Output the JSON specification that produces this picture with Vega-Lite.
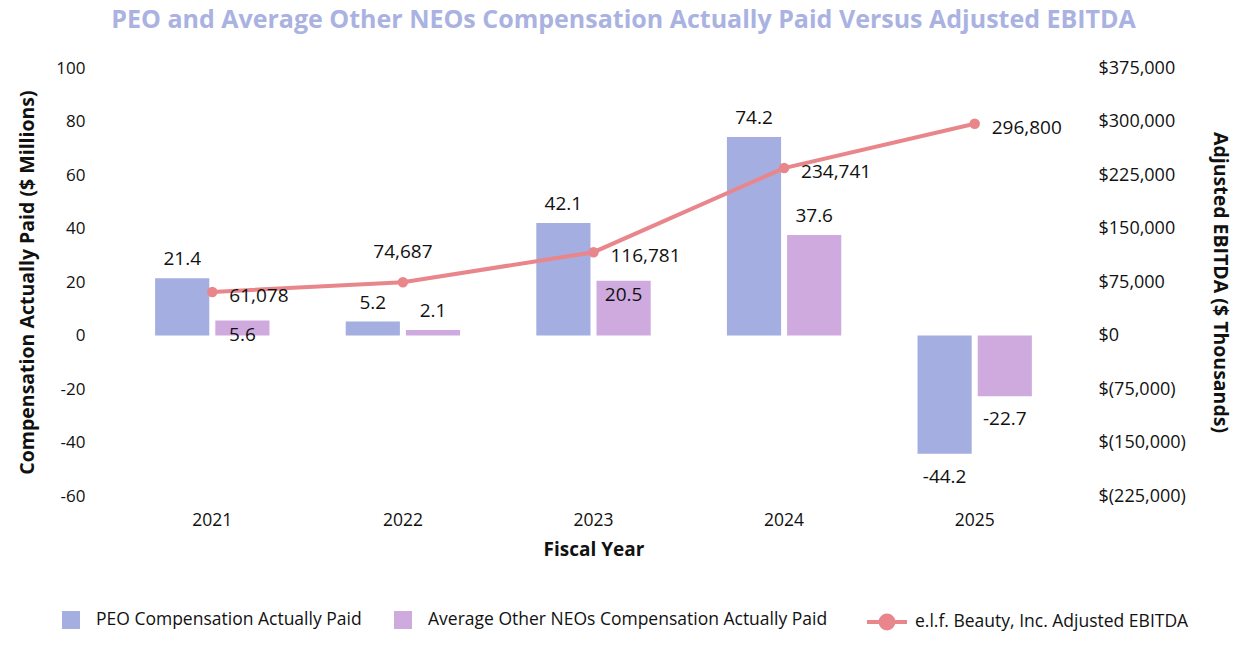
{
  "$schema": "https://vega.github.io/schema/vega-lite/v6.json",
  "width": 953,
  "height": 428,
  "padding": {"left": 17, "right": 10, "top": 8, "bottom": 5},
  "title": {
    "text": "PEO and Average Other NEOs Compensation Actually Paid Versus Adjusted EBITDA",
    "fontSize": 25,
    "fontWeight": "bold",
    "color": "#AAB2E2",
    "font": "Open Sans",
    "anchor": "middle",
    "frame": "bounds",
    "offset": 26
  },
  "config": {
    "font": "Open Sans",
    "view": {"stroke": null},
    "axis": {"grid": false, "labelFont": "Open Sans", "titleFont": "Open Sans", "labelColor": "#111", "titleColor": "#111", "domain": false, "ticks": false},
    "legend": {"labelFont": "Open Sans", "labelColor": "#111"}
  },
  "datasets": {
    "comp": [
      {"year": "2021", "series": "PEO Compensation Actually Paid", "value": 21.4},
      {"year": "2022", "series": "PEO Compensation Actually Paid", "value": 5.2},
      {"year": "2023", "series": "PEO Compensation Actually Paid", "value": 42.1},
      {"year": "2024", "series": "PEO Compensation Actually Paid", "value": 74.2},
      {"year": "2025", "series": "PEO Compensation Actually Paid", "value": -44.2},
      {"year": "2021", "series": "Average Other NEOs Compensation Actually Paid", "value": 5.6},
      {"year": "2022", "series": "Average Other NEOs Compensation Actually Paid", "value": 2.1},
      {"year": "2023", "series": "Average Other NEOs Compensation Actually Paid", "value": 20.5},
      {"year": "2024", "series": "Average Other NEOs Compensation Actually Paid", "value": 37.6},
      {"year": "2025", "series": "Average Other NEOs Compensation Actually Paid", "value": -22.7}
    ],
    "ebitda": [
      {"year": "2021", "value": 61078},
      {"year": "2022", "value": 74687},
      {"year": "2023", "value": 116781},
      {"year": "2024", "value": 234741},
      {"year": "2025", "value": 296800}
    ]
  },
  "encoding": {
    "x": {
      "field": "year",
      "type": "ordinal",
      "scale": {"paddingInner": 0.4, "paddingOuter": 0.2},
      "axis": {
        "title": "Fiscal Year",
        "labelAngle": 0,
        "labelFontSize": 17.5,
        "titleFontSize": 19,
        "titleFontWeight": "bold",
        "labelPadding": 15,
        "titlePadding": 12
      }
    }
  },
  "layer": [
    {
      "data": {"name": "comp"},
      "encoding": {
        "y": {
          "field": "value",
          "type": "quantitative",
          "scale": {"domain": [-60, 100], "nice": false},
          "axis": {
            "title": "Compensation Actually Paid ($ Millions)",
            "values": [-60, -40, -20, 0, 20, 40, 60, 80, 100],
            "labelExpr": "datum.value + ''",
            "labelFontSize": 17,
            "titleFontSize": 19.5,
            "titleFontWeight": "bold",
            "labelPadding": 32,
            "titlePadding": 18
          }
        }
      },
      "layer": [
        {
          "mark": {"type": "bar"},
          "encoding": {
            "xOffset": {"field": "series", "type": "nominal", "sort": ["PEO Compensation Actually Paid", "Average Other NEOs Compensation Actually Paid"], "scale": {"paddingInner": 0.1, "paddingOuter": 0}},
            "color": {
              "field": "series",
              "type": "nominal",
              "scale": {"domain": ["PEO Compensation Actually Paid", "Average Other NEOs Compensation Actually Paid"], "range": ["#A4AEE0", "#CFAADE"]},
              "legend": {
                "title": null,
                "orient": "none",
                "direction": "horizontal",
                "legendX": -55,
                "legendY": 543,
                "symbolType": "square",
                "symbolSize": 324,
                "symbolStrokeWidth": 0,
                "labelFontSize": 17.5,
                "labelOffset": 16,
                "columnPadding": 32,
                "labelLimit": 500
              }
            }
          }
        },
        {
          "mark": {"type": "rule", "color": "#888888", "strokeWidth": 2},
          "encoding": {"y": {"datum": 0}}
        },
        {
          "transform": [{"filter": "datum.value >= 0 && !(datum.series == 'Average Other NEOs Compensation Actually Paid' && (datum.year == '2021' || datum.year == '2023'))"}],
          "mark": {"type": "text", "baseline": "bottom", "dy": -9, "fontSize": 19, "color": "#111"},
          "encoding": {
            "xOffset": {"field": "series", "type": "nominal", "sort": ["PEO Compensation Actually Paid", "Average Other NEOs Compensation Actually Paid"]},
            "text": {"field": "value", "type": "nominal"}
          }
        },
        {
          "transform": [{"filter": "datum.series == 'Average Other NEOs Compensation Actually Paid' && (datum.year == '2021' || datum.year == '2023')"}],
          "mark": {"type": "text", "baseline": "middle", "dy": 14, "fontSize": 19, "color": "#111"},
          "encoding": {
            "xOffset": {"field": "series", "type": "nominal", "sort": ["PEO Compensation Actually Paid", "Average Other NEOs Compensation Actually Paid"]},
            "text": {"field": "value", "type": "nominal"}
          }
        },
        {
          "transform": [{"filter": "datum.value < 0"}],
          "mark": {"type": "text", "baseline": "top", "dy": 14, "fontSize": 19, "color": "#111"},
          "encoding": {
            "xOffset": {"field": "series", "type": "nominal", "sort": ["PEO Compensation Actually Paid", "Average Other NEOs Compensation Actually Paid"]},
            "text": {"field": "value", "type": "nominal"}
          }
        }
      ]
    },
    {
      "data": {"name": "ebitda"},
      "encoding": {
        "y": {
          "field": "value",
          "type": "quantitative",
          "scale": {"domain": [-225000, 375000], "nice": false},
          "axis": {
            "orient": "right",
            "title": "Adjusted EBITDA ($ Thousands)",
            "values": [-225000, -150000, -75000, 0, 75000, 150000, 225000, 300000, 375000],
            "labelExpr": "datum.value < 0 ? '$(' + format(-datum.value, ',') + ')' : '$' + format(datum.value, ',')",
            "labelFontSize": 18,
            "titleFontSize": 19.5,
            "titleFontWeight": "bold",
            "labelPadding": 28,
            "titlePadding": 24
          }
        }
      },
      "layer": [
        {
          "mark": {"type": "line", "strokeWidth": 4},
          "encoding": {
            "stroke": {
              "datum": "e.l.f. Beauty, Inc. Adjusted EBITDA",
              "scale": {"range": ["#E8868B"]},
              "legend": {
                "title": null,
                "orient": "none",
                "legendX": 748,
                "legendY": 532,
                "symbolType": "M-1,0H1M-0.32,0A0.32,0.32 0 1,0 0.32,0A0.32,0.32 0 1,0 -0.32,0Z",
                "symbolSize": 1600,
                "symbolStrokeWidth": 4,
                "symbolFillColor": "#E8868B",
                "labelFontSize": 17.5,
                "labelOffset": 6,
                "labelLimit": 500
              }
            }
          }
        },
        {
          "mark": {"type": "circle", "size": 110, "color": "#E8868B", "opacity": 1},
          "encoding": {}
        },
        {
          "transform": [{"filter": "datum.year != '2022'"}],
          "mark": {"type": "text", "align": "left", "baseline": "middle", "dx": 17, "dy": 4, "fontSize": 19, "color": "#111"},
          "encoding": {"text": {"field": "value", "type": "quantitative", "format": ","}}
        },
        {
          "transform": [{"filter": "datum.year == '2022'"}],
          "mark": {"type": "text", "align": "center", "baseline": "middle", "dy": -30, "fontSize": 19, "color": "#111"},
          "encoding": {"text": {"field": "value", "type": "quantitative", "format": ","}}
        }
      ]
    }
  ],
  "resolve": {"scale": {"y": "independent", "color": "independent", "stroke": "independent"}}
}
